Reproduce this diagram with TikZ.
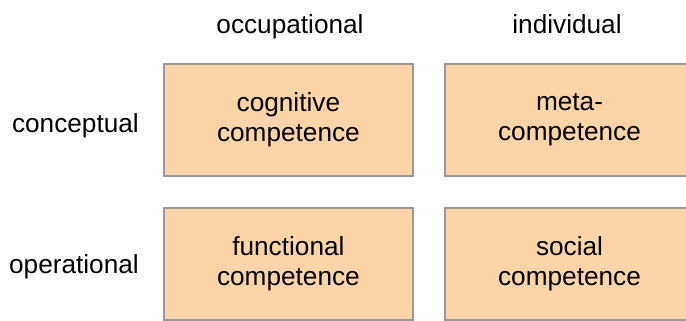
\documentclass[tikz,border=0pt]{standalone}
\usepackage{fontspec}
\setmainfont{Liberation Sans}
\definecolor{boxfill}{HTML}{FDD4A7}
\definecolor{boxline}{HTML}{999999}
\begin{document}
\begin{tikzpicture}[x=1pt,y=-1pt,
  cell/.style={rectangle,draw=boxline,fill=boxfill,line width=2pt,minimum width=249pt,minimum height=111.5pt,inner sep=0pt,align=center,font=\fontsize{26.2}{30}\selectfont},
  lab/.style={inner sep=0pt,font=\fontsize{26.2}{30}\selectfont}]
\useasboundingbox (0,0) rectangle (686,321);
\clip (0,0) rectangle (686,321);
\node[cell] (cog) at (288.4,120) {cognitive\\competence};
\node[cell] (meta) at (569.5,120) {meta-\\competence};
\node[cell] (func) at (288.4,264) {functional\\competence};
\node[cell] (soc) at (569.5,264) {social\\competence};
\node[lab,anchor=base] (occ) at (290,34) {occupational};
\node[lab,anchor=base] (ind) at (567,34) {individual};
\node[lab,anchor=base east] (con) at (139,132) {conceptual};
\node[lab,anchor=base east] (ope) at (139,273.3) {operational};
\end{tikzpicture}
\end{document}
